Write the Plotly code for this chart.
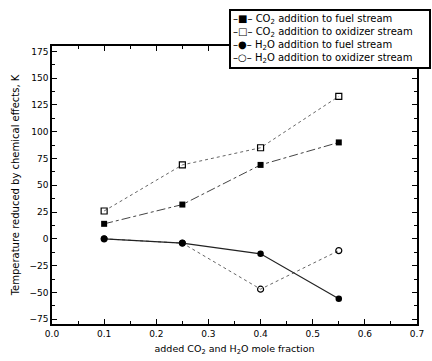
import plotly.graph_objects as go

x_vals = [0.1, 0.25, 0.4, 0.55]
co2_fuel = [14, 32, 69, 90]
co2_oxid = [26, 69, 85, 133]
h2o_fuel = [0, -4, -14, -56]
h2o_oxid = [0, -4, -47, -11]

x_ticks = [0.0, 0.1, 0.2, 0.3, 0.4, 0.5, 0.6, 0.7]
y_ticks = [175, 150, 125, 100, 75, 50, 25, 0, -25, -50, -75]

legend_lines = [
    "–■– CO<sub>2</sub> addition to fuel stream",
    "–□– CO<sub>2</sub> addition to oxidizer stream",
    "–●– H<sub>2</sub>O addition to fuel stream",
    "–○– H<sub>2</sub>O addition to oxidizer stream",
]

fig = go.Figure()
fig.add_trace(go.Scatter(x=x_vals, y=co2_oxid, mode="lines+markers", name="CO2 oxidizer",
                         line=dict(color="#666", width=1, dash="dot"),
                         marker=dict(symbol="square-open", size=6, color="black", line=dict(width=1.2))))
fig.add_trace(go.Scatter(x=x_vals, y=co2_fuel, mode="lines+markers", name="CO2 fuel",
                         line=dict(color="#444", width=1, dash="dashdot"),
                         marker=dict(symbol="square", size=6, color="black")))
fig.add_trace(go.Scatter(x=x_vals, y=h2o_oxid, mode="lines+markers", name="H2O oxidizer",
                         line=dict(color="#666", width=1, dash="dot"),
                         marker=dict(symbol="circle-open", size=6, color="black", line=dict(width=1.2))))
fig.add_trace(go.Scatter(x=x_vals, y=h2o_fuel, mode="lines+markers", name="H2O fuel",
                         line=dict(color="#222", width=1.2),
                         marker=dict(symbol="circle", size=6.5, color="black")))

FONT = "DejaVu Sans, Liberation Sans, Arial"
axis_font = dict(family=FONT, size=9, color="#000000")
fig.update_layout(
    width=432, height=361,
    margin=dict(l=52, r=8, t=46, b=37),
    paper_bgcolor="white", plot_bgcolor="white",
    showlegend=False,
    font=axis_font,
    xaxis=dict(range=[0, 0.7], tickvals=x_ticks, ticktext=[f"{v:.1f}" for v in x_ticks],
               ticks="inside", ticklen=5, tickwidth=1, tickcolor="black",
               minor=dict(dtick=0.05, ticks="inside", ticklen=3, tickcolor="black"),
               showline=True, linecolor="black", linewidth=1.5, mirror="allticks",
               showgrid=False, zeroline=False, tickfont=axis_font,
               title=dict(text="added CO<sub>2</sub> and H<sub>2</sub>O mole fraction",
                          font=dict(family=FONT, size=9.5, color="#000000"), standoff=8)),
    yaxis=dict(range=[-79.5, 180], tickvals=y_ticks, ticks="inside", ticklen=5, tickwidth=1, tickcolor="black",
               minor=dict(dtick=12.5, ticks="inside", ticklen=3, tickcolor="black"),
               showline=True, linecolor="black", linewidth=1.5, mirror="allticks",
               showgrid=False, zeroline=False, tickfont=axis_font,
               title=dict(text="Temperature reduced by chemical effects, K",
                          font=dict(family=FONT, size=10, color="#000000"), standoff=8)),
)

fig.add_annotation(
    xref="paper", yref="paper", x=0.485, y=1.132, xanchor="left", yanchor="top",
    text="<br>".join(legend_lines), showarrow=False, align="left",
    bordercolor="black", borderwidth=2, bgcolor="white", borderpad=2, width=194,
    font=dict(family=FONT, size=10, color="#000000"),
)

fig.write_html("out.html")
